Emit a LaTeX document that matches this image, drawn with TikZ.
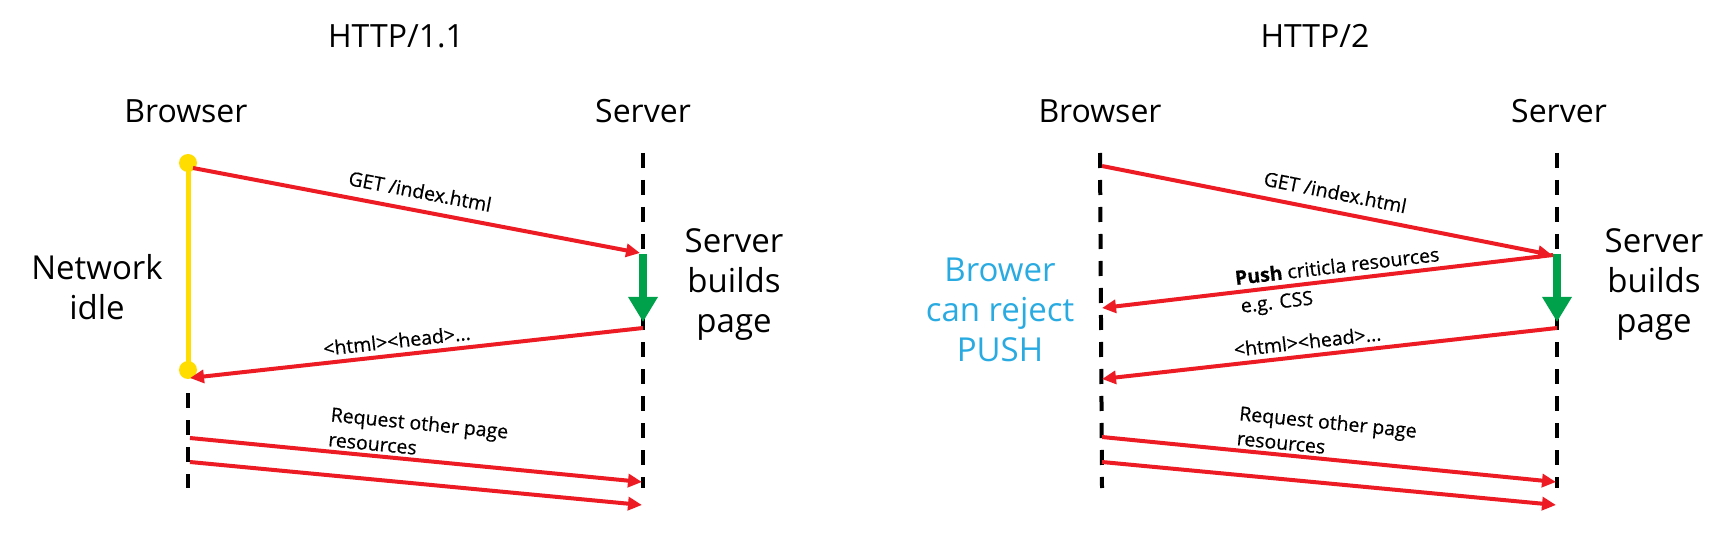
\documentclass[tikz,border=0pt]{standalone}
\usepackage{fontspec}
\setmainfont{Open Sans}
\newfontfamily\lblfont{Open Sans}[FakeBold=0.5]
\usetikzlibrary{arrows.meta}
\definecolor{msgred}{RGB}{237,28,36}
\definecolor{buildgreen}{RGB}{0,161,75}
\definecolor{idleyellow}{RGB}{255,221,0}
\definecolor{pushblue}{RGB}{41,171,226}
\begin{document}
\begin{tikzpicture}[x=1pt,y=-1pt,
  msg/.style={draw=msgred, line width=4pt, -{Triangle[length=14pt,width=13pt]}},
  life/.style={draw=black, line width=4pt, dash pattern=on 15pt off 12pt},
  lbl/.style={font=\lblfont\fontsize{19.5}{25}\selectfont, inner sep=0pt, sloped},
  head/.style={font=\fontsize{32}{38}\selectfont, anchor=base, inner sep=0pt},
  big/.style={font=\fontsize{33}{40}\selectfont, align=center, inner sep=0pt},
  buildarrow/.style={draw=buildgreen, line width=8pt, -{Triangle[length=25pt,width=28pt]}},
]
\useasboundingbox (0,0) rectangle (1716,537);

% ---------------- HTTP/1.1 ----------------
\node[head] (t1) at (396,48) {HTTP/1.1};
\node[head] (b1) at (186,123) {Browser};
\node[head] (s1) at (643,123) {Server};

\coordinate (L1s) at (643,153);
\coordinate (L1e) at (643,488);
\draw[life] (L1s) -- (L1e);
\coordinate (B1ls) at (188,393);
\coordinate (B1le) at (188,488);
\draw[life] (B1ls) -- (B1le);

\coordinate (Y1a) at (188,163);
\coordinate (Y1b) at (188,370);
\draw[idleyellow, line width=5pt] (Y1a) -- (Y1b);
\fill[idleyellow] (Y1a) circle (9);
\fill[idleyellow] (Y1b) circle (9);

\coordinate (g1s) at (643,254);
\coordinate (g1e) at (643,322);
\draw[buildarrow] (g1s) -- (g1e);

\coordinate (m1a) at (193,168);
\coordinate (m1b) at (640,253);
\draw[msg] (m1a) -- node[lbl, above=10pt, pos=0.5] {GET /index.html} (m1b);

\coordinate (m2a) at (643,328);
\coordinate (m2b) at (190,378);
\draw[msg] (m2a) -- node[lbl, above=5pt, pos=0.54] {<html><head>...} (m2b);

\coordinate (m3a) at (190,438);
\coordinate (m3b) at (642,482);
\draw[msg] (m3a) -- node[lbl, above=3pt, pos=0.5, align=left] {Request other page\\resources} (m3b);
\coordinate (m4a) at (190,462);
\coordinate (m4b) at (642,505);
\draw[msg] (m4a) -- (m4b);

\node[big] (idle) at (97,287) {Network\\idle};
\node[big] (sb1) at (734,285) {Server\\builds\\page};

% ---------------- HTTP/2 ----------------
\node[head] (t2) at (1315,48) {HTTP/2};
\node[head] (b2) at (1100,123) {Browser};
\node[head] (s2) at (1559,123) {Server};

\coordinate (L2s) at (1557,153);
\coordinate (L2e) at (1557,488);
\draw[life] (L2s) -- (L2e);
\coordinate (B2s) at (1100,153);
\coordinate (B2e) at (1102,488);
\draw[life] (B2s) -- (B2e);

\coordinate (g2s) at (1557,254);
\coordinate (g2e) at (1557,322);
\draw[buildarrow] (g2s) -- (g2e);

\coordinate (n1a) at (1102,166);
\coordinate (n1b) at (1552,255);
\draw[msg] (n1a) -- node[lbl, above=10pt, pos=0.51] {GET /index.html} (n1b);

\coordinate (n2a) at (1553,255);
\coordinate (n2b) at (1102,308);
\draw[msg] (n2a) -- node[lbl, above=5pt, pos=0.475] {\textbf{Push} criticla resources}
                   node[lbl, below=5pt, pos=0.616] {e.g. CSS} (n2b);

\coordinate (n3a) at (1557,328);
\coordinate (n3b) at (1102,379);
\draw[msg] (n3a) -- node[lbl, above=5pt, pos=0.545] {<html><head>...} (n3b);

\coordinate (n4a) at (1102,437);
\coordinate (n4b) at (1556,482);
\draw[msg] (n4a) -- node[lbl, above=3pt, pos=0.49, align=left] {Request other page\\resources} (n4b);
\coordinate (n5a) at (1102,462);
\coordinate (n5b) at (1556,505);
\draw[msg] (n5a) -- (n5b);

\node[big, text=pushblue] (rej) at (1000,310) {Brower\\can reject\\PUSH};
\node[big] (sb2) at (1654,285) {Server\\builds\\page};
\end{tikzpicture}
\end{document}
